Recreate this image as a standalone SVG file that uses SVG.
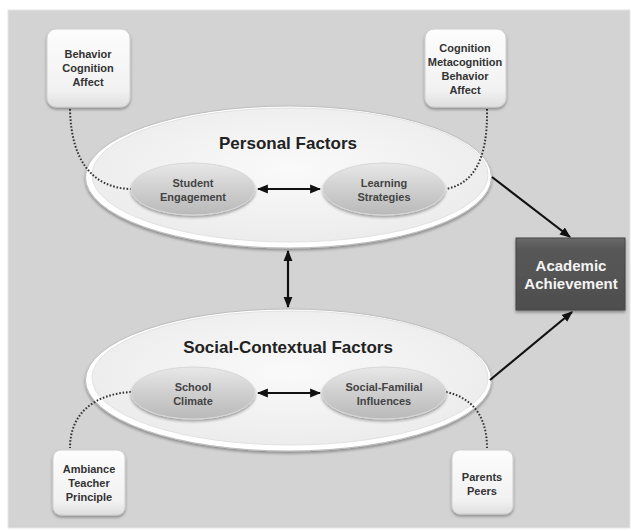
<svg xmlns="http://www.w3.org/2000/svg" width="631" height="531" viewBox="0 0 631 531">
<defs>
<linearGradient id="boxG" x1="0" y1="0" x2="0" y2="1"><stop offset="0" stop-color="#fdfdfd"/><stop offset="0.8" stop-color="#f1f1f1"/><stop offset="1" stop-color="#dedede"/></linearGradient>
<radialGradient id="bigG" cx="0.5" cy="0.45" r="0.55"><stop offset="0" stop-color="#fafafa"/><stop offset="1" stop-color="#ececec"/></radialGradient>
<linearGradient id="smallG" x1="0" y1="0" x2="0" y2="1"><stop offset="0" stop-color="#e8e8e8"/><stop offset="0.5" stop-color="#cfcfcf"/><stop offset="1" stop-color="#b9b9b9"/></linearGradient>
<linearGradient id="acG" x1="0" y1="0" x2="0" y2="1"><stop offset="0" stop-color="#6a6a6a"/><stop offset="0.15" stop-color="#585858"/><stop offset="1" stop-color="#4e4e4e"/></linearGradient>
<marker id="ah" viewBox="0 0 10 10" refX="9" refY="5" markerWidth="5" markerHeight="5" orient="auto-start-reverse"><path d="M0,1 L10,5 L0,9 z" fill="#111"/></marker>
<filter id="sh" x="-20%" y="-20%" width="140%" height="140%"><feGaussianBlur in="SourceAlpha" stdDeviation="1.5"/><feOffset dx="0" dy="2"/><feComponentTransfer><feFuncA type="linear" slope="0.35"/></feComponentTransfer><feMerge><feMergeNode/><feMergeNode in="SourceGraphic"/></feMerge></filter>
</defs>
<style>
.box{fill:url(#boxG);stroke:#cfcfcf;stroke-width:1}
.bt{font-family:"Liberation Sans",Arial,sans-serif;font-weight:bold;font-size:11px;fill:#333;text-anchor:middle}
.big{fill:#ffffff;stroke:#bdbdbd;stroke-width:1}
.bigin{fill:url(#bigG);stroke:#e2e2e2;stroke-width:1}
.title{font-family:"Liberation Sans",Arial,sans-serif;font-weight:bold;font-size:17px;fill:#222;text-anchor:middle}
.sm{fill:url(#smallG);stroke:#d8d8d8;stroke-width:1}
.st{font-family:"Liberation Sans",Arial,sans-serif;font-weight:bold;font-size:11px;fill:#444;text-anchor:middle}
.arr{stroke:#111;stroke-width:2.2;fill:none}
.dot{stroke:#333;stroke-width:2;fill:none;stroke-dasharray:1.6 1.8}
.ac{font-family:"Liberation Sans",Arial,sans-serif;font-weight:bold;font-size:15px;fill:#f4f4f4;text-anchor:middle}
</style>
<rect x="0" y="0" width="631" height="531" fill="#ffffff"/>
<rect x="8" y="10" width="622" height="518" fill="#d3d3d3" stroke="#e6e6e6" stroke-width="1"/>

<g id="personal-factors">
<ellipse class="big" cx="288.5" cy="177" rx="203" ry="71" filter="url(#sh)"/>
<ellipse class="bigin" cx="290" cy="175" rx="198" ry="67"/>
<text class="title" x="288" y="149">Personal Factors</text>
</g>
<g id="social-contextual-factors">
<ellipse class="big" cx="288.5" cy="380" rx="203" ry="71" filter="url(#sh)"/>
<ellipse class="bigin" cx="290" cy="378" rx="198" ry="67"/>
<text class="title" x="288" y="353">Social-Contextual Factors</text>
</g>

<g id="connectors">
<path class="dot" d="M70,109 C71,160 92,188 131,189"/>
<path class="dot" d="M487,109 C488,162 472,184 446,189"/>
<path class="dot" d="M131,392 C96,394 70,412 70,448"/>
<path class="dot" d="M446,392 C474,398 487,418 487,448"/>
<line class="arr" x1="258" y1="189" x2="320" y2="189" marker-start="url(#ah)" marker-end="url(#ah)"/>
<line class="arr" x1="258" y1="393" x2="320" y2="393" marker-start="url(#ah)" marker-end="url(#ah)"/>
<line class="arr" x1="288" y1="251" x2="288" y2="307" marker-start="url(#ah)" marker-end="url(#ah)"/>
<line class="arr" x1="492" y1="177" x2="570" y2="237" marker-end="url(#ah)"/>
<line class="arr" x1="490" y1="380" x2="572" y2="312" marker-end="url(#ah)"/>
</g>

<g id="box-behavior-cognition-affect">
<rect class="box" x="47" y="29" width="83" height="78" rx="9" filter="url(#sh)"/>
<text class="bt" x="88" y="58">Behavior</text>
<text class="bt" x="88" y="72">Cognition</text>
<text class="bt" x="88" y="86">Affect</text>
</g>
<g id="box-cognition-metacognition">
<rect class="box" x="425" y="29" width="81" height="78" rx="9" filter="url(#sh)"/>
<text class="bt" x="465" y="52">Cognition</text>
<text class="bt" x="465" y="66">Metacognition</text>
<text class="bt" x="465" y="80">Behavior</text>
<text class="bt" x="465" y="94">Affect</text>
</g>
<g id="student-engagement">
<ellipse class="sm" cx="193" cy="189" rx="62" ry="26" filter="url(#sh)"/>
<text class="st" x="193" y="187">Student</text>
<text class="st" x="193" y="201">Engagement</text>
</g>
<g id="learning-strategies">
<ellipse class="sm" cx="384" cy="189" rx="61" ry="26" filter="url(#sh)"/>
<text class="st" x="384" y="187">Learning</text>
<text class="st" x="384" y="201">Strategies</text>
</g>
<g id="school-climate">
<ellipse class="sm" cx="193" cy="393" rx="62" ry="26" filter="url(#sh)"/>
<text class="st" x="193" y="391">School</text>
<text class="st" x="193" y="405">Climate</text>
</g>
<g id="social-familial-influences">
<ellipse class="sm" cx="384" cy="393" rx="62" ry="26" filter="url(#sh)"/>
<text class="st" x="384" y="391">Social-Familial</text>
<text class="st" x="384" y="405">Influences</text>
</g>
<g id="box-ambiance">
<rect class="box" x="53" y="450" width="72" height="65" rx="8" filter="url(#sh)"/>
<text class="bt" x="89" y="473">Ambiance</text>
<text class="bt" x="89" y="487">Teacher</text>
<text class="bt" x="89" y="501">Principle</text>
</g>
<g id="box-parents-peers">
<rect class="box" x="452" y="450" width="61" height="64" rx="8" filter="url(#sh)"/>
<text class="bt" x="482" y="481">Parents</text>
<text class="bt" x="482" y="495">Peers</text>
</g>
<g id="academic-achievement">
<rect x="516" y="238" width="109" height="72" fill="url(#acG)" stroke="#444" stroke-width="1" filter="url(#sh)"/>
<text class="ac" x="571" y="271">Academic</text>
<text class="ac" x="571" y="289">Achievement</text>
</g>
</svg>
